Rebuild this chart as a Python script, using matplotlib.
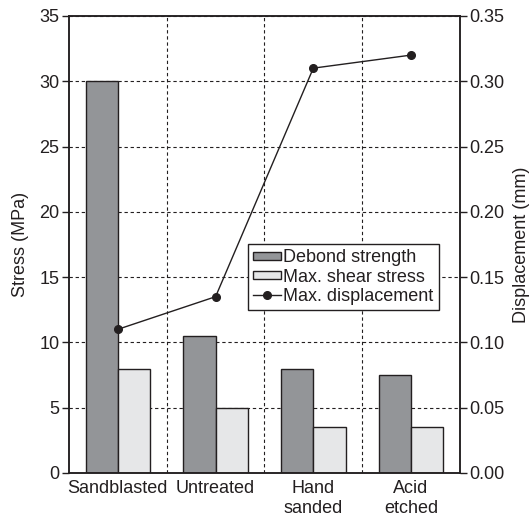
import matplotlib
matplotlib.use("Agg")
import matplotlib.pyplot as plt
import numpy as np

plt.rcParams['font.family'] = ['Liberation Sans', 'DejaVu Sans']
plt.rcParams['font.size'] = 13

# data
categories = ["Sandblasted", "Untreated", "Hand\nsanded", "Acid\netched"]
debond_strength = [30, 10.5, 8, 7.5]        # MPa
max_shear_stress = [8, 5, 3.5, 3.5]         # MPa
max_displacement = [0.11, 0.135, 0.31, 0.32]  # mm

dark = "#939598"
light = "#e6e7e8"
ink = "#231f20"

fig = plt.figure(figsize=(5.29, 5.20), dpi=100)
ax = fig.add_axes([0.1304, 0.0904, 0.739, 0.879])

x = np.arange(len(categories))
w = 0.33
b1 = ax.bar(x - w / 2, debond_strength, w, color=dark, edgecolor=ink, linewidth=1.0,
            label="Debond strength", zorder=2)
b2 = ax.bar(x + w / 2, max_shear_stress, w, color=light, edgecolor=ink, linewidth=1.0,
            label="Max. shear stress", zorder=2)

ax.set_xlim(-0.5, len(categories) - 0.5)
ax.set_ylim(0, 35)
ax.set_yticks(np.arange(0, 36, 5))
ax.set_xticks(x)
ax.set_xticklabels(categories, color=ink)
ax.set_xticks(x[:-1] + 0.5, minor=True)
ax.tick_params(axis='x', which='both', length=0, pad=5)
ax.tick_params(axis='y', direction='out', length=5, width=1, color=ink, labelcolor=ink, pad=2)
# dashed grid: vertical between groups, horizontal at each 5 MPa
ax.grid(True, which='minor', axis='x', color=ink, linestyle=(0, (3, 2.5)), linewidth=0.8, zorder=1)
ax.grid(True, which='major', axis='y', color=ink, linestyle=(0, (3, 2.5)), linewidth=0.8, zorder=1)
ax.set_axisbelow(True)
ax.set_ylabel("Stress (MPa)", color=ink, labelpad=7)
for s in ax.spines.values():
    s.set_color(ink)
    s.set_linewidth(1.1)

ax2 = ax.twinx()
ln, = ax2.plot(x, max_displacement, color=ink, linewidth=1.0, marker='o', markersize=5.5,
               label="Max. displacement")
ax2.set_ylim(0, 0.35)
yt2 = np.arange(0, 0.351, 0.05)
ax2.set_yticks(yt2)
ax2.set_yticklabels([f"{v:.2f}" for v in yt2])
ax2.tick_params(axis='y', direction='out', length=5, width=1, color=ink, labelcolor=ink, pad=2)
ax2.set_ylabel("Displacement (mm)", color=ink, labelpad=6)
for s in ax2.spines.values():
    s.set_color(ink)
    s.set_linewidth(1.1)

leg = ax2.legend([b1, b2, ln], ["Debond strength", "Max. shear stress", "Max. displacement"],
                 loc='upper left', bbox_to_anchor=(0.458, 0.501), borderaxespad=0,
                 fancybox=False, framealpha=1, edgecolor=ink, handlelength=1.5,
                 handleheight=0.35, handletextpad=0.15, labelspacing=0.12, borderpad=0.3)
leg.get_frame().set_linewidth(1.0)
for t in leg.get_texts():
    t.set_color(ink)

fig.savefig("out.png", dpi=100)
